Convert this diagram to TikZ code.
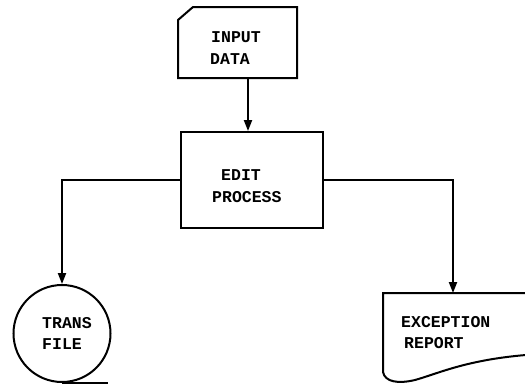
\documentclass[tikz,border=0pt]{standalone}
\usepackage{fontspec}
\setmainfont{Liberation Mono}
\usetikzlibrary{arrows.meta}
\tikzset{
  ln/.style={line width=2pt, line join=miter},
  arr/.style={ln, -{Triangle[width=8pt,length=11pt]}},
  lbl/.style={anchor=base west, inner sep=0pt, font=\fontsize{16.5}{20}\selectfont\bfseries},
}
\begin{document}
\begin{tikzpicture}[x=1pt,y=-1pt]
\useasboundingbox (0,0) rectangle (525,386);
\begin{scope}
\clip (0,0) rectangle (525,386);
% input card
\draw[ln] (178,20) -- (193,7) -- (297,7) -- (297,78) -- (178,78) -- cycle;
\coordinate (cardbot) at (248,78);
% edit process box
\node[ln, draw, rectangle, minimum width=142pt, minimum height=96pt, inner sep=0pt] (edit) at (252,180) {};
% trans file (tape)
\node[ln, draw, circle, minimum size=97pt, inner sep=0pt] (trans) at (62,333.5) {};
\draw[ln] (trans.south) -- ++(46,0) coordinate (tail);
% exception report (document)
\draw[ln] (540,293) -- (383,293) -- (383,372)
  .. controls (385,382) and (398,384) .. (415,380)
  .. controls (440,373) and (470,358) .. (540,354);
\coordinate (doctop) at (453,293);
% connectors
\draw[arr] (cardbot) -- (cardbot |- edit.north);
\draw[arr] (edit.west) -| (trans.north);
\draw[arr] (edit.east) -| (doctop);
\end{scope}
% labels
\node[lbl] (t1) at (211,42) {INPUT};
\node[lbl] (t2) at (210,64) {DATA};
\node[lbl] (t3) at (221,180) {EDIT};
\node[lbl] (t4) at (212,202) {PROCESS};
\node[lbl] (t5) at (42,328) {TRANS};
\node[lbl] (t6) at (42,349) {FILE};
\node[lbl] (t7) at (401,327) {EXCEPTION};
\node[lbl] (t8) at (404,348) {REPORT};
\end{tikzpicture}
\end{document}
